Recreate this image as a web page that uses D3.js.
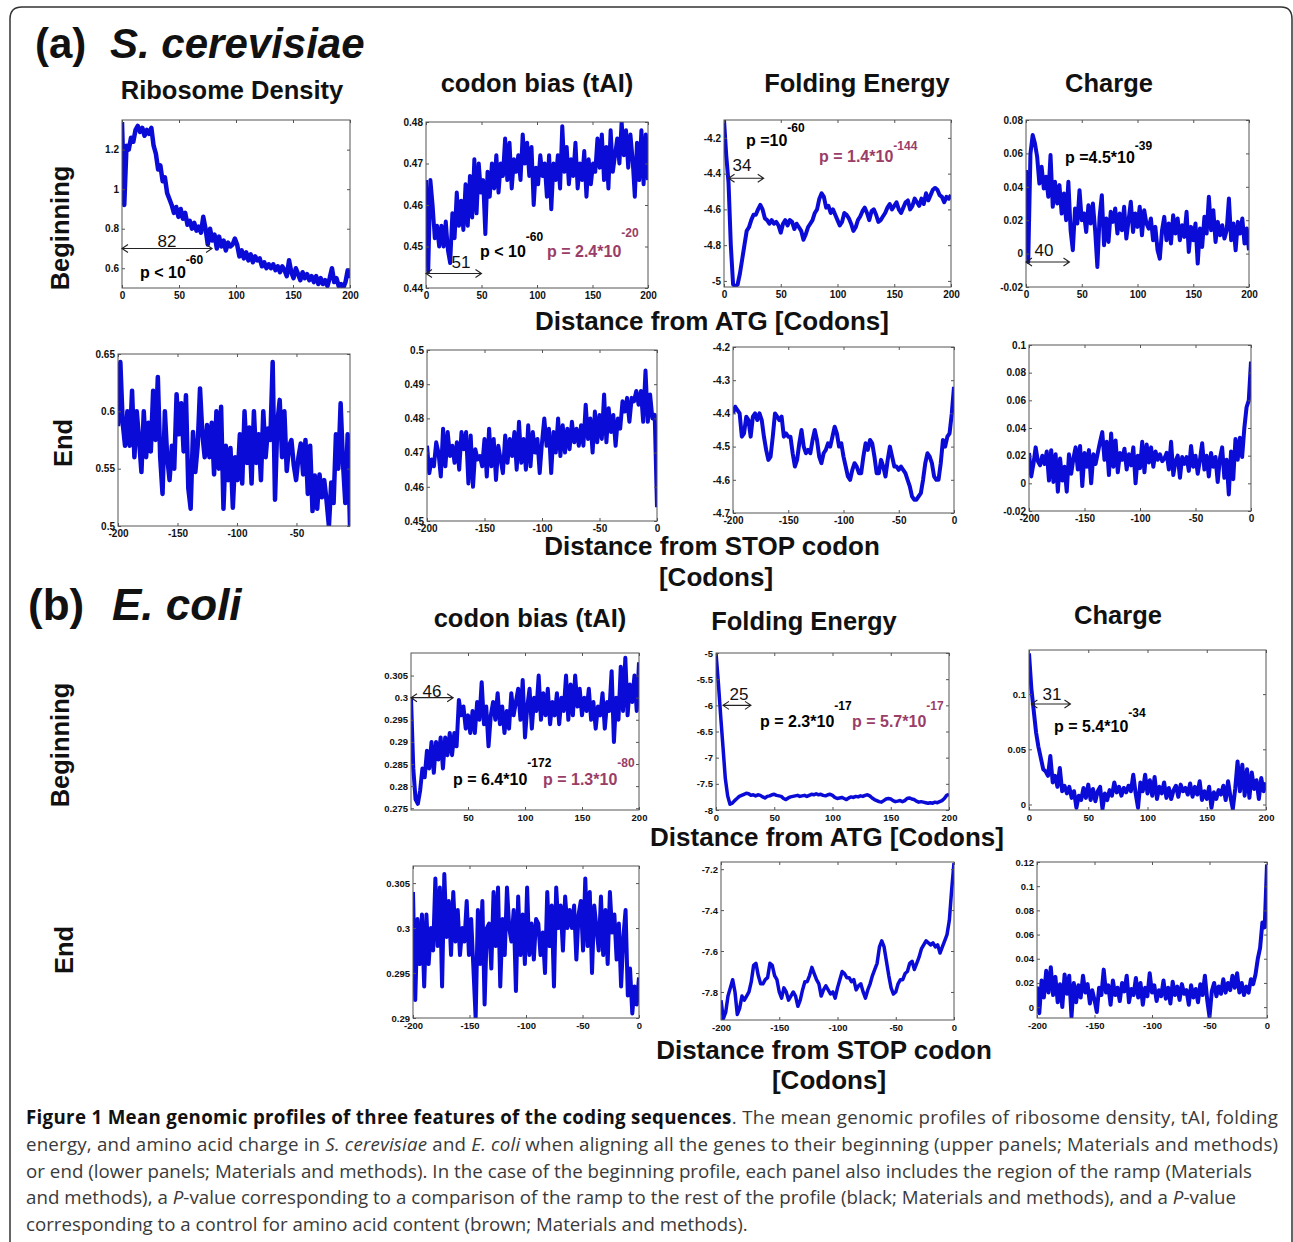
<!DOCTYPE html>
<html>
<head>
<meta charset="utf-8">
<script src="https://cdn.jsdelivr.net/npm/d3@7"></script>
<style>
  body { margin: 0; background: #fff; }
  svg { display: block; }
</style>
</head>
<body>
<script>
// ---- data: mean genomic profiles ----
// (a) S. cerevisiae, aligned to the beginning (codons 0..200)
const rdBegin = [1.34, 0.92, 1.22, 1.20, 1.26, 1.24, 1.30, 1.32, 1.29, 1.31, 1.27, 1.30, 1.28, 1.31, 1.22, 1.18, 1.10, 1.12, 1.04, 1.06, 0.98, 0.95, 0.92, 0.88, 0.91, 0.86, 0.90, 0.85, 0.88, 0.82, 0.84, 0.80, 0.83, 0.79, 0.81, 0.78, 0.86, 0.80, 0.72, 0.80, 0.74, 0.77, 0.70, 0.76, 0.71, 0.74, 0.69, 0.73, 0.71, 0.72, 0.75, 0.72, 0.66, 0.69, 0.65, 0.68, 0.64, 0.67, 0.63, 0.66, 0.64, 0.65, 0.61, 0.63, 0.60, 0.62, 0.60, 0.62, 0.59, 0.61, 0.58, 0.61, 0.59, 0.56, 0.64, 0.58, 0.55, 0.60, 0.57, 0.54, 0.58, 0.55, 0.57, 0.54, 0.56, 0.53, 0.56, 0.52, 0.55, 0.52, 0.54, 0.51, 0.55, 0.60, 0.53, 0.55, 0.51, 0.52, 0.50, 0.53, 0.59, 0.55]
const taiBegin = [0.466, 0.444, 0.466, 0.460, 0.452, 0.455, 0.450, 0.455, 0.450, 0.456, 0.449, 0.446, 0.458, 0.452, 0.463, 0.455, 0.461, 0.454, 0.465, 0.455, 0.467, 0.457, 0.471, 0.458, 0.470, 0.463, 0.466, 0.453, 0.468, 0.462, 0.470, 0.464, 0.472, 0.463, 0.470, 0.467, 0.476, 0.466, 0.475, 0.464, 0.471, 0.468, 0.472, 0.466, 0.477, 0.470, 0.475, 0.467, 0.474, 0.460, 0.469, 0.465, 0.472, 0.467, 0.470, 0.462, 0.472, 0.459, 0.470, 0.466, 0.472, 0.464, 0.479, 0.468, 0.474, 0.465, 0.471, 0.467, 0.475, 0.464, 0.470, 0.466, 0.473, 0.462, 0.471, 0.465, 0.470, 0.468, 0.476, 0.469, 0.477, 0.466, 0.474, 0.464, 0.478, 0.468, 0.472, 0.476, 0.470, 0.480, 0.472, 0.478, 0.469, 0.477, 0.471, 0.462, 0.475, 0.466, 0.478, 0.465, 0.477, 0.466]
const feBegin = [-4.10, -4.30, -4.45, -4.80, -5.02, -5.03, -5.02, -4.96, -4.88, -4.80, -4.72, -4.70, -4.66, -4.63, -4.63, -4.60, -4.575, -4.60, -4.65, -4.66, -4.68, -4.66, -4.68, -4.67, -4.69, -4.73, -4.68, -4.66, -4.69, -4.66, -4.67, -4.71, -4.68, -4.70, -4.72, -4.77, -4.74, -4.70, -4.68, -4.66, -4.62, -4.60, -4.54, -4.51, -4.53, -4.59, -4.58, -4.62, -4.60, -4.63, -4.66, -4.69, -4.67, -4.62, -4.63, -4.65, -4.68, -4.72, -4.70, -4.66, -4.64, -4.61, -4.59, -4.62, -4.66, -4.61, -4.60, -4.63, -4.67, -4.66, -4.64, -4.62, -4.59, -4.57, -4.60, -4.58, -4.56, -4.60, -4.62, -4.59, -4.56, -4.55, -4.60, -4.58, -4.54, -4.56, -4.58, -4.54, -4.57, -4.51, -4.55, -4.52, -4.49, -4.48, -4.49, -4.52, -4.53, -4.56, -4.53, -4.54, -4.52]
const chBegin = [0.050, -0.005, 0.060, 0.071, 0.066, 0.058, 0.042, 0.052, 0.039, 0.046, 0.034, 0.059, 0.028, 0.043, 0.030, 0.041, 0.024, 0.036, 0.020, 0.043, 0.014, 0.002, 0.027, 0.018, 0.038, 0.020, 0.024, 0.013, 0.029, 0.018, 0.030, 0.014, -0.008, 0.022, 0.035, 0.005, 0.021, 0.007, 0.025, 0.019, 0.027, 0.012, 0.024, 0.014, 0.028, 0.009, 0.020, 0.031, 0.013, 0.024, 0.016, 0.028, 0.011, 0.026, 0.018, 0.015, 0.021, 0.008, 0.016, 0.002, -0.003, 0.014, 0.022, 0.008, 0.018, 0.006, 0.023, 0.012, 0.021, 0.008, 0.017, 0.010, 0.025, 0.001, 0.016, 0.008, 0.018, -0.006, 0.015, 0.004, 0.022, 0.012, 0.034, 0.014, 0.026, 0.007, 0.019, 0.011, 0.017, 0.009, 0.014, 0.033, 0.008, 0.018, 0.002, 0.019, 0.012, 0.021, 0.006, 0.015, 0.002]

// (a) S. cerevisiae, aligned to the STOP codon (codons -200..0)
const rdEnd = [0.587, 0.643, 0.59, 0.57, 0.60, 0.57, 0.618, 0.56, 0.60, 0.575, 0.547, 0.60, 0.56, 0.59, 0.565, 0.618, 0.575, 0.63, 0.56, 0.528, 0.60, 0.56, 0.54, 0.57, 0.55, 0.615, 0.58, 0.607, 0.565, 0.614, 0.533, 0.515, 0.582, 0.547, 0.57, 0.62, 0.58, 0.56, 0.588, 0.56, 0.59, 0.545, 0.60, 0.55, 0.604, 0.515, 0.57, 0.54, 0.568, 0.516, 0.56, 0.54, 0.58, 0.537, 0.60, 0.555, 0.586, 0.537, 0.60, 0.555, 0.58, 0.54, 0.60, 0.56, 0.585, 0.575, 0.643, 0.523, 0.59, 0.61, 0.56, 0.60, 0.548, 0.57, 0.575, 0.553, 0.54, 0.56, 0.572, 0.545, 0.575, 0.528, 0.57, 0.513, 0.544, 0.515, 0.545, 0.525, 0.54, 0.522, 0.50, 0.538, 0.52, 0.58, 0.55, 0.607, 0.555, 0.52, 0.58, 0.50]
const taiEnd = [0.472, 0.464, 0.468, 0.466, 0.473, 0.470, 0.463, 0.477, 0.466, 0.476, 0.469, 0.472, 0.467, 0.473, 0.465, 0.476, 0.471, 0.476, 0.461, 0.475, 0.460, 0.471, 0.468, 0.469, 0.466, 0.474, 0.463, 0.477, 0.466, 0.474, 0.462, 0.472, 0.468, 0.464, 0.475, 0.467, 0.474, 0.469, 0.476, 0.465, 0.479, 0.467, 0.474, 0.465, 0.478, 0.466, 0.476, 0.470, 0.474, 0.464, 0.473, 0.480, 0.472, 0.477, 0.464, 0.476, 0.470, 0.480, 0.469, 0.478, 0.470, 0.477, 0.471, 0.479, 0.473, 0.477, 0.472, 0.478, 0.472, 0.484, 0.474, 0.480, 0.470, 0.482, 0.473, 0.481, 0.474, 0.487, 0.473, 0.483, 0.476, 0.481, 0.472, 0.480, 0.477, 0.485, 0.482, 0.486, 0.479, 0.486, 0.485, 0.488, 0.484, 0.488, 0.479, 0.494, 0.479, 0.487, 0.480, 0.481, 0.454]
const feEnd = [-4.40, -4.38, -4.39, -4.40, -4.47, -4.46, -4.41, -4.42, -4.47, -4.41, -4.40, -4.42, -4.40, -4.42, -4.47, -4.51, -4.54, -4.53, -4.47, -4.40, -4.41, -4.42, -4.41, -4.47, -4.46, -4.47, -4.47, -4.52, -4.56, -4.54, -4.49, -4.45, -4.50, -4.52, -4.51, -4.52, -4.48, -4.45, -4.48, -4.53, -4.55, -4.52, -4.51, -4.49, -4.50, -4.47, -4.44, -4.46, -4.50, -4.49, -4.53, -4.56, -4.59, -4.60, -4.57, -4.55, -4.56, -4.58, -4.58, -4.53, -4.49, -4.51, -4.48, -4.49, -4.53, -4.58, -4.58, -4.54, -4.56, -4.59, -4.54, -4.50, -4.53, -4.56, -4.56, -4.57, -4.56, -4.57, -4.58, -4.60, -4.62, -4.65, -4.66, -4.66, -4.65, -4.64, -4.60, -4.55, -4.52, -4.53, -4.55, -4.59, -4.60, -4.60, -4.55, -4.48, -4.50, -4.47, -4.46, -4.40, -4.32]
const chEnd = [0.022, 0.005, 0.014, 0.026, 0.016, 0.013, 0.020, 0.014, 0.023, 0.002, 0.024, 0.001, 0.021, -0.006, 0.018, 0.002, 0.012, -0.006, 0.021, 0.007, 0.018, 0.026, 0.010, 0.027, -0.002, 0.022, 0.012, 0.024, 0.000, 0.021, 0.014, 0.022, 0.030, 0.037, 0.017, 0.030, 0.006, 0.036, 0.012, 0.031, 0.008, 0.022, 0.017, 0.025, 0.010, 0.021, 0.013, 0.026, 0.000, 0.020, 0.011, 0.030, 0.008, 0.028, 0.015, 0.026, 0.012, 0.023, 0.017, 0.021, 0.016, 0.018, 0.022, 0.010, 0.030, 0.006, 0.016, 0.020, 0.004, 0.019, 0.014, 0.019, 0.009, 0.027, 0.012, 0.020, 0.007, 0.017, 0.029, 0.010, 0.020, 0.005, 0.022, 0.012, 0.019, 0.001, 0.018, 0.026, 0.004, 0.017, -0.008, 0.023, 0.003, 0.032, 0.017, 0.033, 0.019, 0.040, 0.055, 0.060, 0.088]

// (b) E. coli, beginning
const ecTaiBegin = [0.300, 0.284, 0.277, 0.276, 0.279, 0.284, 0.282, 0.288, 0.284, 0.290, 0.283, 0.290, 0.286, 0.291, 0.284, 0.291, 0.287, 0.292, 0.287, 0.292, 0.289, 0.2995, 0.296, 0.298, 0.293, 0.296, 0.292, 0.297, 0.292, 0.299, 0.295, 0.3035, 0.294, 0.298, 0.289, 0.296, 0.299, 0.295, 0.301, 0.294, 0.298, 0.292, 0.297, 0.293, 0.301, 0.296, 0.299, 0.302, 0.295, 0.304, 0.291, 0.298, 0.302, 0.293, 0.300, 0.297, 0.305, 0.295, 0.301, 0.296, 0.302, 0.294, 0.299, 0.296, 0.301, 0.294, 0.300, 0.297, 0.305, 0.295, 0.303, 0.296, 0.305, 0.298, 0.302, 0.296, 0.300, 0.297, 0.302, 0.295, 0.299, 0.293, 0.298, 0.296, 0.301, 0.293, 0.299, 0.297, 0.306, 0.290, 0.300, 0.295, 0.307, 0.297, 0.309, 0.296, 0.303, 0.299, 0.305, 0.297, 0.308]
const ecFeBegin = [-5.00, -5.56, -6.20, -6.80, -7.40, -7.73, -7.89, -7.87, -7.82, -7.78, -7.74, -7.72, -7.70, -7.68, -7.69, -7.72, -7.71, -7.73, -7.71, -7.72, -7.75, -7.77, -7.74, -7.73, -7.71, -7.70, -7.72, -7.73, -7.74, -7.78, -7.80, -7.77, -7.75, -7.74, -7.73, -7.72, -7.74, -7.73, -7.72, -7.74, -7.72, -7.70, -7.71, -7.69, -7.71, -7.70, -7.72, -7.73, -7.71, -7.70, -7.72, -7.76, -7.78, -7.77, -7.76, -7.78, -7.80, -7.77, -7.75, -7.76, -7.74, -7.75, -7.73, -7.74, -7.72, -7.71, -7.73, -7.77, -7.80, -7.82, -7.84, -7.85, -7.82, -7.79, -7.78, -7.79, -7.82, -7.84, -7.83, -7.82, -7.84, -7.82, -7.78, -7.77, -7.79, -7.80, -7.83, -7.85, -7.84, -7.85, -7.86, -7.87, -7.86, -7.87, -7.85, -7.86, -7.84, -7.82, -7.78, -7.72, -7.70]
const ecChBegin = [0.137, 0.105, 0.085, 0.065, 0.052, 0.042, 0.032, 0.030, 0.026, 0.044, 0.020, 0.026, 0.016, 0.033, 0.012, 0.017, 0.010, 0.016, 0.006, 0.012, -0.003, 0.008, 0.004, 0.015, 0.006, 0.018, 0.004, 0.014, 0.003, 0.012, 0.016, -0.004, 0.010, 0.004, 0.013, 0.008, 0.020, 0.011, 0.016, 0.008, 0.015, 0.011, 0.017, 0.012, 0.027, 0.010, -0.003, 0.020, 0.012, 0.027, 0.010, 0.022, 0.008, 0.025, 0.005, 0.016, 0.010, 0.020, 0.006, 0.015, 0.005, 0.013, 0.017, 0.007, 0.018, 0.012, 0.015, 0.009, 0.019, 0.007, 0.016, 0.009, 0.021, 0.004, 0.012, 0.005, 0.016, -0.003, 0.011, 0.005, 0.013, 0.009, 0.017, 0.004, 0.021, 0.007, -0.004, 0.014, 0.039, 0.012, 0.036, 0.008, 0.032, 0.006, 0.029, 0.014, 0.022, 0.005, 0.024, 0.012, 0.020]

// (b) E. coli, end
const ecTaiEnd = [0.304, 0.292, 0.301, 0.296, 0.3015, 0.2935, 0.3015, 0.296, 0.300, 0.2975, 0.3055, 0.298, 0.3045, 0.2935, 0.306, 0.299, 0.303, 0.297, 0.304, 0.2985, 0.302, 0.297, 0.300, 0.2985, 0.303, 0.297, 0.301, 0.2955, 0.290, 0.302, 0.296, 0.303, 0.2915, 0.300, 0.3005, 0.2955, 0.304, 0.298, 0.3045, 0.2935, 0.301, 0.297, 0.3045, 0.300, 0.2985, 0.302, 0.293, 0.3035, 0.297, 0.3015, 0.296, 0.3045, 0.297, 0.3005, 0.2965, 0.301, 0.3005, 0.297, 0.2995, 0.295, 0.304, 0.298, 0.3025, 0.2935, 0.3045, 0.300, 0.3025, 0.2975, 0.3035, 0.300, 0.302, 0.300, 0.3025, 0.2965, 0.3015, 0.303, 0.2975, 0.3055, 0.298, 0.304, 0.295, 0.3025, 0.300, 0.2975, 0.3035, 0.297, 0.302, 0.296, 0.304, 0.2995, 0.3015, 0.2965, 0.3005, 0.2935, 0.299, 0.302, 0.2925, 0.2955, 0.2905, 0.2935, 0.2915, 0.2945]
const ecFeEnd = [-7.84, -7.93, -7.90, -7.82, -7.78, -7.74, -7.80, -7.91, -7.88, -7.82, -7.84, -7.82, -7.80, -7.75, -7.67, -7.66, -7.72, -7.76, -7.76, -7.74, -7.73, -7.66, -7.67, -7.72, -7.74, -7.80, -7.83, -7.78, -7.80, -7.84, -7.82, -7.80, -7.82, -7.87, -7.84, -7.79, -7.75, -7.75, -7.72, -7.68, -7.71, -7.74, -7.76, -7.82, -7.79, -7.77, -7.79, -7.81, -7.80, -7.83, -7.78, -7.74, -7.70, -7.71, -7.73, -7.73, -7.75, -7.74, -7.79, -7.77, -7.76, -7.80, -7.83, -7.79, -7.76, -7.72, -7.69, -7.66, -7.58, -7.55, -7.58, -7.65, -7.72, -7.78, -7.81, -7.80, -7.76, -7.74, -7.74, -7.71, -7.70, -7.66, -7.65, -7.69, -7.66, -7.63, -7.59, -7.57, -7.55, -7.56, -7.57, -7.56, -7.58, -7.57, -7.61, -7.58, -7.55, -7.52, -7.45, -7.30, -7.17]
const ecChEnd = [0.017, -0.005, 0.022, 0.008, 0.030, 0.012, 0.033, 0.010, 0.025, 0.004, 0.019, 0.000, 0.027, 0.011, 0.026, -0.008, 0.020, 0.004, 0.018, 0.008, 0.026, 0.012, 0.019, 0.003, 0.014, 0.006, -0.004, 0.016, 0.010, 0.031, 0.012, 0.018, 0.002, 0.022, 0.010, 0.016, 0.005, 0.020, 0.013, 0.026, 0.004, 0.015, 0.010, 0.024, 0.008, 0.020, 0.002, 0.016, 0.009, 0.028, 0.012, 0.018, 0.005, 0.014, 0.009, 0.022, 0.007, 0.016, 0.003, 0.021, 0.010, 0.017, 0.006, 0.019, 0.011, 0.014, 0.002, 0.018, 0.008, 0.015, 0.004, 0.019, 0.010, 0.026, 0.006, -0.008, 0.013, 0.020, 0.009, 0.017, 0.011, 0.023, 0.012, 0.020, 0.014, 0.026, 0.016, 0.028, 0.012, 0.020, 0.010, 0.017, 0.012, 0.023, 0.019, 0.027, 0.040, 0.049, 0.070, 0.066, 0.118]

// tick values
const begTicks = [0, 50, 100, 150, 200]
const endTicks = [-200, -150, -100, -50, 0]

const BLUE = "#0b0bd8"
const MAROON = "#9a3d67"
const SANS = "'Liberation Sans', Arial, sans-serif"

const panels = [
  { data: rdBegin, span: [0, 200], xd: [0, 200], yd: [0.5, 1.35], box: [122, 120, 350, 288], xt: begTicks, yt: [0.6, 0.8, 1, 1.2], lw: 4.5 },
  { data: taiBegin, span: [0, 200], xd: [0, 200], yd: [0.44, 0.48], box: [426, 122, 648, 288], xt: begTicks, yt: [0.44, 0.45, 0.46, 0.47, 0.48] },
  { data: feBegin, span: [0, 200], xd: [0, 200], yd: [-5.034, -4.1], box: [724, 120, 951, 287], xt: begTicks, yt: [-5, -4.8, -4.6, -4.4, -4.2] },
  { data: chBegin, span: [0, 200], xd: [0, 200], yd: [-0.02, 0.08], box: [1026, 120, 1249, 287], xt: begTicks, yt: [-0.02, 0, 0.02, 0.04, 0.06, 0.08] },
  { data: rdEnd, span: [-200, -5], xd: [-200, -5], yd: [0.5, 0.65], box: [118, 354, 350, 526], xt: [-200, -150, -100, -50], yt: [0.5, 0.55, 0.6, 0.65], lw: 4.5 },
  { data: taiEnd, span: [-200, 0], xd: [-200, 0], yd: [0.45, 0.5], box: [427, 350, 657, 521], xt: endTicks, yt: [0.45, 0.46, 0.47, 0.48, 0.49, 0.5] },
  { data: feEnd, span: [-200, 0], xd: [-200, 0], yd: [-4.7, -4.2], box: [733, 347, 954, 513], xt: endTicks, yt: [-4.7, -4.6, -4.5, -4.4, -4.3, -4.2] },
  { data: chEnd, span: [-200, 0], xd: [-200, 0], yd: [-0.02, 0.1], box: [1029, 345, 1251, 511], xt: endTicks, yt: [-0.02, 0, 0.02, 0.04, 0.06, 0.08, 0.1] },
  { data: ecTaiBegin, span: [0, 200], xd: [0, 200], yd: [0.2746, 0.3101], box: [411, 653, 639, 810], xt: [50, 100, 150, 200], yt: [0.275, 0.28, 0.285, 0.29, 0.295, 0.3, 0.305] },
  { data: ecFeBegin, span: [0, 200], xd: [0, 200], yd: [-8, -5], box: [716, 653, 949, 810], xt: begTicks, yt: [-8, -7.5, -7, -6.5, -6, -5.5, -5], lw: 3.5 },
  { data: ecChBegin, span: [0, 200], xd: [0, 200], yd: [-0.005, 0.14], box: [1029, 650, 1266, 810], xt: begTicks, yt: [0, 0.05, 0.1] },
  { data: ecTaiEnd, span: [-200, 0], xd: [-200, 0], yd: [0.29, 0.3069], box: [413, 866, 639, 1018], xt: endTicks, yt: [0.29, 0.295, 0.3, 0.305] },
  { data: ecFeEnd, span: [-200, 0], xd: [-200, 0], yd: [-7.937, -7.165], box: [721, 862, 954, 1020], xt: endTicks, yt: [-7.8, -7.6, -7.4, -7.2], lw: 3.5 },
  { data: ecChEnd, span: [-200, 0], xd: [-200, 0], yd: [-0.009, 0.12], box: [1037, 862, 1267, 1018], xt: endTicks, yt: [0, 0.02, 0.04, 0.06, 0.08, 0.1, 0.12] }
]

// ramp arrows: panel, start/end codon, height, label
const ramps = [
  { p: 0, from: 0, to: 79, at: 0.7, label: "82", lx: 167, ly: 247 },
  { p: 1, from: 0, to: 50, at: 0.4435, label: "51", lx: 461, ly: 268 },
  { p: 2, from: 4, to: 35, at: -4.426, label: "34", lx: 742, ly: 171 },
  { p: 3, from: 0, to: 39, at: -0.005, label: "40", lx: 1044, ly: 256 },
  { p: 8, from: 0, to: 37, at: 0.3, label: "46", lx: 432, ly: 697 },
  { p: 9, from: 6, to: 30, at: -6, label: "25", lx: 739, ly: 700 },
  { p: 10, from: 2, to: 35, at: 0.091, label: "31", lx: 1052, ly: 700 }
]

const pvals = [
  { x: 140, y: 278, main: "p < 10", sup: "-60", dy: -14, c: "#000" },
  { x: 480, y: 257, main: "p < 10", sup: "-60", dy: -16, c: "#000" },
  { x: 547, y: 257, main: "p = 2.4*10", sup: "-20", dy: -20, c: MAROON },
  { x: 746, y: 146, main: "p =10", sup: "-60", dy: -14, c: "#000" },
  { x: 819, y: 162, main: "p = 1.4*10", sup: "-144", dy: -12, c: MAROON },
  { x: 1065, y: 163, main: "p =4.5*10", sup: "-39", dy: -13, c: "#000" },
  { x: 453, y: 785, main: "p = 6.4*10", sup: "-172", dy: -18, c: "#000" },
  { x: 543, y: 785, main: "p = 1.3*10", sup: "-80", dy: -18, c: MAROON },
  { x: 760, y: 727, main: "p = 2.3*10", sup: "-17", dy: -17, c: "#000" },
  { x: 852, y: 727, main: "p = 5.7*10", sup: "-17", dy: -17, c: MAROON },
  { x: 1054, y: 732, main: "p = 5.4*10", sup: "-34", dy: -15, c: "#000" }
]

const svg = d3.select("body").append("svg")
  .attr("width", 1293)
  .attr("height", 1242)

// outer frame
svg.append("path")
  .attr("d", "M10,1250 L10,19 Q10,7 22,7 L1281,7 Q1292,7 1292,19 L1292,1250")
  .attr("fill", "none")
  .attr("stroke", "#333")
  .attr("stroke-width", 1.5)

const fmt = d => String(+d.toFixed(4))
const scales = []

panels.forEach((p, i) => {
  const [l, t, r, b] = p.box
  const w = r - l, h = b - t
  const x = d3.scaleLinear().domain(p.xd).range([0, w])
  const y = d3.scaleLinear().domain(p.yd).range([h, 0])
  scales.push({ x, y, l, t })

  const g = svg.append("g").attr("transform", `translate(${l},${t})`)

  g.append("clipPath").attr("id", "clip" + i)
    .append("rect").attr("width", w).attr("height", h)

  const n = p.data.length
  const xAt = k => p.span[0] + k * (p.span[1] - p.span[0]) / (n - 1)
  const line = d3.line()
    .x((d, k) => x(xAt(k)))
    .y(d => y(d))

  g.append("path")
    .datum(p.data)
    .attr("clip-path", `url(#clip${i})`)
    .attr("d", line)
    .attr("fill", "none")
    .attr("stroke", BLUE)
    .attr("stroke-width", p.lw || 4)
    .attr("stroke-linejoin", "round")

  // axes, MATLAB style: inward ticks on all four sides
  const fs = i >= 8 ? 9.5 : 10
  g.append("g").attr("transform", `translate(0,${h})`)
    .call(d3.axisBottom(x).tickValues(p.xt).tickSizeInner(-3).tickSizeOuter(0).tickPadding(4).tickFormat(fmt))
  g.append("g")
    .call(d3.axisLeft(y).tickValues(p.yt).tickSizeInner(-3).tickSizeOuter(0).tickPadding(3).tickFormat(fmt))
  g.append("g")
    .call(d3.axisTop(x).tickValues(p.xt).tickSizeInner(-3).tickSizeOuter(0).tickFormat(""))
  g.append("g").attr("transform", `translate(${w},0)`)
    .call(d3.axisRight(y).tickValues(p.yt).tickSizeInner(-3).tickSizeOuter(0).tickFormat(""))

  g.selectAll(".domain").remove()
  g.selectAll(".tick line").attr("stroke", "#555")
  g.selectAll(".tick text")
    .attr("font-family", SANS)
    .attr("font-weight", "bold")
    .attr("font-size", fs)
    .attr("fill", "#111")

  g.append("rect")
    .attr("width", w).attr("height", h)
    .attr("fill", "none")
    .attr("stroke", "#555")
    .attr("stroke-width", 1)
})

// ramp arrows
ramps.forEach(a => {
  const s = scales[a.p]
  const x0 = s.l + s.x(a.from), x1 = s.l + s.x(a.to), yy = s.t + s.y(a.at)
  const arrow = d3.path()
  arrow.moveTo(x0, yy); arrow.lineTo(x1, yy)
  arrow.moveTo(x0 + 6, yy - 4); arrow.lineTo(x0, yy); arrow.lineTo(x0 + 6, yy + 4)
  arrow.moveTo(x1 - 6, yy - 4); arrow.lineTo(x1, yy); arrow.lineTo(x1 - 6, yy + 4)
  svg.append("path")
    .attr("d", arrow.toString())
    .attr("fill", "none")
    .attr("stroke", "#222")
    .attr("stroke-width", 1.1)
  svg.append("text")
    .attr("x", a.lx).attr("y", a.ly)
    .attr("text-anchor", "middle")
    .attr("font-family", SANS)
    .attr("font-size", 17)
    .attr("fill", "#111")
    .text(a.label)
})

// p-values
pvals.forEach(v => {
  const t = svg.append("text")
    .attr("x", v.x).attr("y", v.y)
    .attr("font-family", SANS)
    .attr("font-weight", "bold")
    .attr("fill", v.c)
  t.append("tspan").attr("font-size", 16).text(v.main)
  t.append("tspan").attr("font-size", 12).attr("dy", v.dy).text(v.sup)
})

// headings
const heads = [
  { x: 232, y: 99, t: "Ribosome Density", s: 25.5 },
  { x: 537, y: 92, t: "codon bias (tAI)", s: 25.5 },
  { x: 857, y: 92, t: "Folding Energy", s: 25.5 },
  { x: 1109, y: 92, t: "Charge", s: 25.5 },
  { x: 530, y: 627, t: "codon bias (tAI)", s: 25.5 },
  { x: 804, y: 630, t: "Folding Energy", s: 25.5 },
  { x: 1118, y: 624, t: "Charge", s: 25.5 },
  { x: 712, y: 330, t: "Distance from ATG [Codons]", s: 26 },
  { x: 712, y: 555, t: "Distance from STOP codon", s: 26 },
  { x: 716, y: 586, t: "[Codons]", s: 26 },
  { x: 827, y: 846, t: "Distance from ATG [Codons]", s: 26 },
  { x: 824, y: 1059, t: "Distance from STOP codon", s: 26 },
  { x: 829, y: 1089, t: "[Codons]", s: 26 }
]
heads.forEach(d => {
  svg.append("text")
    .attr("x", d.x).attr("y", d.y)
    .attr("text-anchor", "middle")
    .attr("font-family", SANS)
    .attr("font-weight", "bold")
    .attr("font-size", d.s)
    .attr("fill", "#111")
    .text(d.t)
})

const rows = [
  { x: 69, y: 228, t: "Beginning" },
  { x: 72, y: 443, t: "End" },
  { x: 69, y: 745, t: "Beginning" },
  { x: 73, y: 950, t: "End" }
]
rows.forEach(d => {
  svg.append("text")
    .attr("transform", `translate(${d.x},${d.y}) rotate(-90)`)
    .attr("text-anchor", "middle")
    .attr("font-family", SANS)
    .attr("font-weight", "bold")
    .attr("font-size", 25.5)
    .attr("fill", "#111")
    .text(d.t)
})

// panel letters
const letters = [
  { x: 35, ix: 110, y: 58, a: "(a)", b: "S. cerevisiae", s: 42 },
  { x: 28, ix: 112, y: 620, a: "(b)", b: "E. coli", s: 44 }
]
letters.forEach(d => {
  svg.append("text").attr("x", d.x).attr("y", d.y)
    .attr("font-family", SANS).attr("font-weight", "bold").attr("font-size", d.s)
    .attr("fill", "#111").text(d.a)
  svg.append("text").attr("x", d.ix).attr("y", d.y)
    .attr("font-family", SANS).attr("font-weight", "bold").attr("font-style", "italic")
    .attr("font-size", d.s).attr("fill", "#111").text(d.b)
})

// caption
const caption = [
  { y: 1124, w: 1252, segs: [["Figure 1 Mean genomic profiles of three features of the coding sequences", "b"], [". The mean genomic profiles of ribosome density, tAI, folding", ""]] },
  { y: 1151, w: 1252, segs: [["energy, and amino acid charge in ", ""], ["S. cerevisiae", "i"], [" and ", ""], ["E. coli", "i"], [" when aligning all the genes to their beginning (upper panels; Materials and methods)", ""]] },
  { y: 1178, w: 1226, segs: [["or end (lower panels; Materials and methods). In the case of the beginning profile, each panel also includes the region of the ramp (Materials", ""]] },
  { y: 1204, w: 1210, segs: [["and methods), a ", ""], ["P", "i"], ["-value corresponding to a comparison of the ramp to the rest of the profile (black; Materials and methods), and a ", ""], ["P", "i"], ["-value", ""]] },
  { y: 1231, w: 722, segs: [["corresponding to a control for amino acid content (brown; Materials and methods).", ""]] }
]
const capNodes = caption.map(line => {
  const t = svg.append("text")
    .attr("x", 26).attr("y", line.y)
    .attr("font-family", "'Open Sans', 'Noto Sans', sans-serif")
    .attr("font-size", 18)
    .attr("fill", "#3a3a3a")
  line.segs.forEach(([s, st]) => {
    const sp = t.append("tspan").text(s)
    if (st === "b") sp.attr("font-weight", "bold").attr("fill", "#111")
    if (st === "i") sp.attr("font-style", "italic")
  })
  return t
})
// fit the font size to the last (unjustified) line, then justify the others
const lastLen = capNodes[4].node().getComputedTextLength()
const capSize = 18 * caption[4].w / lastLen
capNodes.forEach((t, k) => {
  t.attr("font-size", capSize)
  if (k < 4) t.attr("textLength", caption[k].w).attr("lengthAdjust", "spacing")
})
</script>
</body>
</html>
